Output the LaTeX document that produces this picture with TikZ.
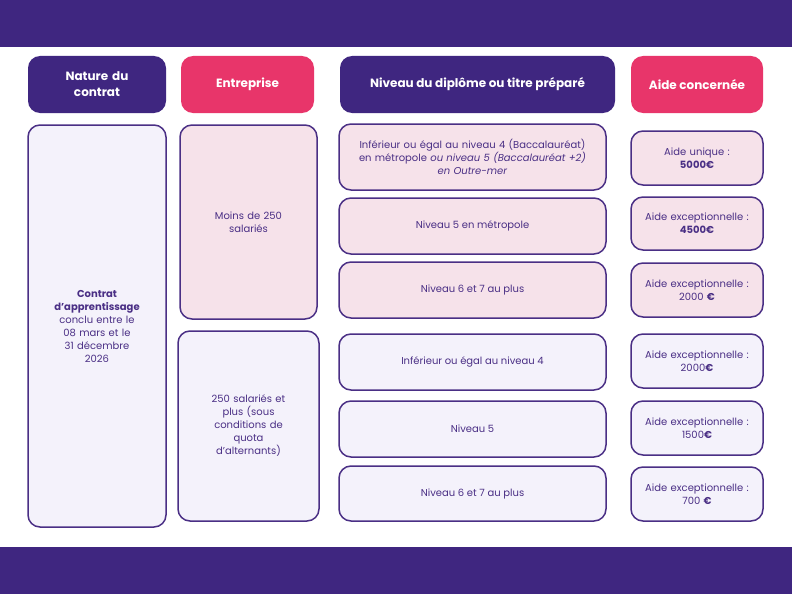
\documentclass[tikz,border=0pt]{standalone}
\usepackage{fontspec}
\setmainfont{Poppins}
\usetikzlibrary{positioning}
\definecolor{deep}{HTML}{3F2680}
\definecolor{rose}{HTML}{E8356A}
\definecolor{edge}{HTML}{4A2F85}
\definecolor{pinkfill}{HTML}{F6E2EA}
\definecolor{lavfill}{HTML}{F4F2FB}
\tikzset{
    cell/.style={draw=edge, line width=1.5pt, rounded corners=12pt, align=center,
        text=edge, font=\fontsize{10}{13}\selectfont, inner sep=2pt},
    pinkcell/.style={cell, fill=pinkfill},
    lavcell/.style={cell, fill=lavfill},
    head/.style={rounded corners=12pt, align=center, text=white,
        font=\fontsize{12}{16}\selectfont\bfseries, inner sep=2pt}
}
% box from corners in pixel units
\newcommand{\cellbox}[7]{%
    \node[#1, minimum width=#4-#2, minimum height=#5-#3, text width=#4-#2-#7]
        (#6) at ({(#2+#4)/2},{(#3+#5)/2}) {\strut};}
\begin{document}
\begin{tikzpicture}[x=1pt, y=-1pt]
    \useasboundingbox (0,0) rectangle (792,594);
    \fill[white] (0,0) rectangle (792,594);
    \fill[deep] (0,0) rectangle (792,47);
    \fill[deep] (0,547) rectangle (792,594);
    % headers
    \node[head, fill=deep, minimum width=138, minimum height=57, text width=100] (nature) at (97,84.5) {Nature du\\contrat};
    \node[head, fill=rose, minimum width=133, minimum height=57] (entreprise) at (247.5,84.5) {Entreprise};
    \node[head, fill=deep, minimum width=275, minimum height=57] (niveau) at (477.5,84.5) {Niveau du diplôme ou titre préparé};
    \node[head, fill=rose, minimum width=132, minimum height=57] (aide) at (697,84.5) {Aide concernée};
    % contrat
    \node[lavcell, minimum width=138, minimum height=402, text width=120] (contrat) at (97,326)
        {\textbf{Contrat\\d’apprentissage}\\conclu entre le\\08 mars et le\\31 décembre\\2026};
    % entreprise
    \node[pinkcell, minimum width=137, minimum height=194, text width=100] (moins) at (248.5,222) {Moins de 250\\salariés};
    \node[lavcell, minimum width=141, minimum height=190, text width=110] (plus) at (248.5,426)
        {250 salariés et\\plus (sous\\conditions de\\quota\\d’alternants)};
    % niveaux
    \node[pinkcell, minimum width=267, minimum height=66, text width=260] (n1) at (472.5,157)
        {Inférieur ou égal au niveau 4 (Baccalauréat)\\en métropole \textit{ou niveau 5 (Baccalauréat +2)}\\\textit{en Outre-mer}};
    \node[pinkcell, minimum width=267, minimum height=56] (n2) at (472.5,226) {Niveau 5 en métropole};
    \node[pinkcell, minimum width=267, minimum height=56] (n3) at (472.5,290) {Niveau 6 et 7 au plus};
    \node[lavcell, minimum width=267, minimum height=56] (n4) at (472.5,362) {Inférieur ou égal au niveau 4};
    \node[lavcell, minimum width=267, minimum height=56] (n5) at (472.5,429) {Niveau 5};
    \node[lavcell, minimum width=267, minimum height=55] (n6) at (472.5,493.5) {Niveau 6 et 7 au plus};
    % aides
    \node[pinkcell, minimum width=132, minimum height=54, text width=125] (a1) at (697,158) {Aide unique :\\\textbf{5000€}};
    \node[pinkcell, minimum width=132, minimum height=53, text width=125] (a2) at (697,223.5) {Aide exceptionnelle :\\\textbf{4500€}};
    \node[pinkcell, minimum width=132, minimum height=54, text width=125] (a3) at (697,290) {Aide exceptionnelle :\\2000 \textbf{€}};
    \node[lavcell, minimum width=132, minimum height=54, text width=125] (a4) at (697,361) {Aide exceptionnelle :\\2000\textbf{€}};
    \node[lavcell, minimum width=132, minimum height=54, text width=125] (a5) at (697,428) {Aide exceptionnelle :\\1500\textbf{€}};
    \node[lavcell, minimum width=132, minimum height=54, text width=125] (a6) at (697,494) {Aide exceptionnelle :\\700 \textbf{€}};
\end{tikzpicture}
\end{document}
